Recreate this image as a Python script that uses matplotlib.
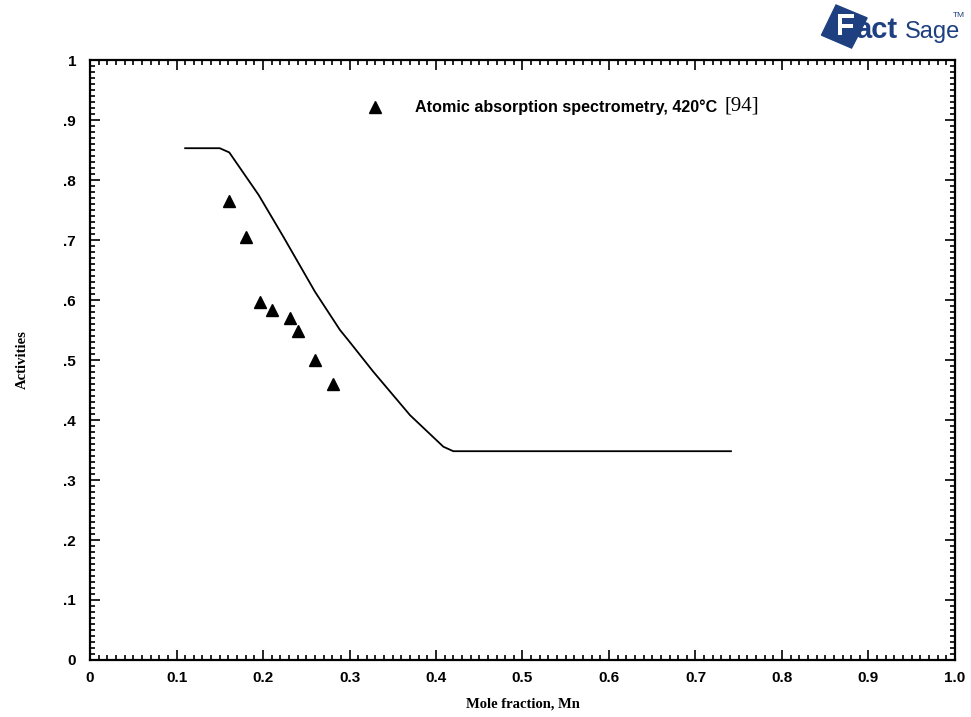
import matplotlib.pyplot as plt
from matplotlib.patches import Polygon
from matplotlib.ticker import MultipleLocator, FixedLocator
import matplotlib.patheffects as pe

# calculated activity curve
calc_x = [0.11, 0.15, 0.161, 0.195, 0.2235, 0.26, 0.289, 0.2986, 0.3275, 0.37, 0.4085, 0.42, 0.741]
calc_y = [0.853, 0.853, 0.846, 0.775, 0.7055, 0.614, 0.55, 0.533, 0.4805, 0.408, 0.3555, 0.348, 0.348]

# experimental points (atomic absorption spectrometry)
exp_x = [0.161, 0.180, 0.1965, 0.210, 0.231, 0.240, 0.260, 0.281]
exp_y = [0.765, 0.705, 0.597, 0.583, 0.570, 0.548, 0.500, 0.460]

xticks = [0, 0.1, 0.2, 0.3, 0.4, 0.5, 0.6, 0.7, 0.8, 0.9, 1.0]
xlabels = ['0', '0.1', '0.2', '0.3', '0.4', '0.5', '0.6', '0.7', '0.8', '0.9', '1.0']
yticks = [0, 0.1, 0.2, 0.3, 0.4, 0.5, 0.6, 0.7, 0.8, 0.9, 1.0]
ylabels = ['0', '.1', '.2', '.3', '.4', '.5', '.6', '.7', '.8', '.9', '1']

fig = plt.figure(figsize=(9.71, 7.17), dpi=100)
ax = fig.add_axes([0.0927, 0.0795, 0.8908, 0.8368])

ax.plot(calc_x, calc_y, color='black', lw=1.3)
ax.plot(exp_x, exp_y, ls='none', marker='^', ms=9, color='black')

ax.set_xlim(0, 1)
ax.set_ylim(0, 1)
ax.xaxis.set_major_locator(FixedLocator(xticks))
ax.yaxis.set_major_locator(FixedLocator(yticks))
ax.set_xticklabels(xlabels, fontfamily='Liberation Sans', fontweight='bold', fontsize=11)
ax.set_yticklabels(ylabels, fontfamily='Liberation Sans', fontweight='bold', fontsize=11)
ax.xaxis.set_minor_locator(MultipleLocator(0.01))
ax.yaxis.set_minor_locator(MultipleLocator(0.01))
ax.tick_params(which='both', direction='in', top=True, right=True, width=1.2)
ax.tick_params(which='major', length=7)
ax.tick_params(which='minor', length=3.5)
ax.tick_params(axis='x', pad=8)
ax.tick_params(axis='y', pad=10)
for s in ax.spines.values():
    s.set_linewidth(1.6)

ax.set_xlabel('Mole fraction, Mn', fontfamily='Liberation Serif', fontweight='bold', fontsize=10.5, labelpad=9)
ax.set_ylabel('Activities', fontfamily='Liberation Serif', fontweight='bold', fontsize=10.5, labelpad=25)

# legend entry
ax.plot([0.3295], [0.922], ls='none', marker='^', ms=9, color='black')
ax.text(0.376, 0.922, 'Atomic absorption spectrometry, 420°C', fontfamily='Liberation Sans',
        fontweight='bold', fontsize=11.6, va='center')
ax.text(0.733, 0.924, '[94]', fontfamily='Liberation Serif', fontsize=15, va='center')

# FactSage logo
blue = '#1e3f80'
fig.patches.append(Polygon([[0.861, 0.993], [0.893, 0.975], [0.877, 0.933], [0.846, 0.951]],
                           closed=True, transform=fig.transFigure, color=blue))
fig.text(0.861, 0.962, 'F', color='white', fontfamily='Liberation Sans', fontweight='bold',
         fontsize=22, va='center',
         path_effects=[pe.withStroke(linewidth=1.5, foreground=blue)])
fig.text(0.881, 0.958, 'act', color=blue, fontfamily='Liberation Sans', fontweight='bold',
         fontsize=21, va='center')
fig.text(0.932, 0.955, 'Sage', color=blue, fontfamily='Liberation Sans', fontsize=17,
         va='center')
fig.text(0.981, 0.978, 'TM', color=blue, fontfamily='Liberation Sans', fontsize=6,
         va='center')

fig.savefig('out.png', dpi=100)
